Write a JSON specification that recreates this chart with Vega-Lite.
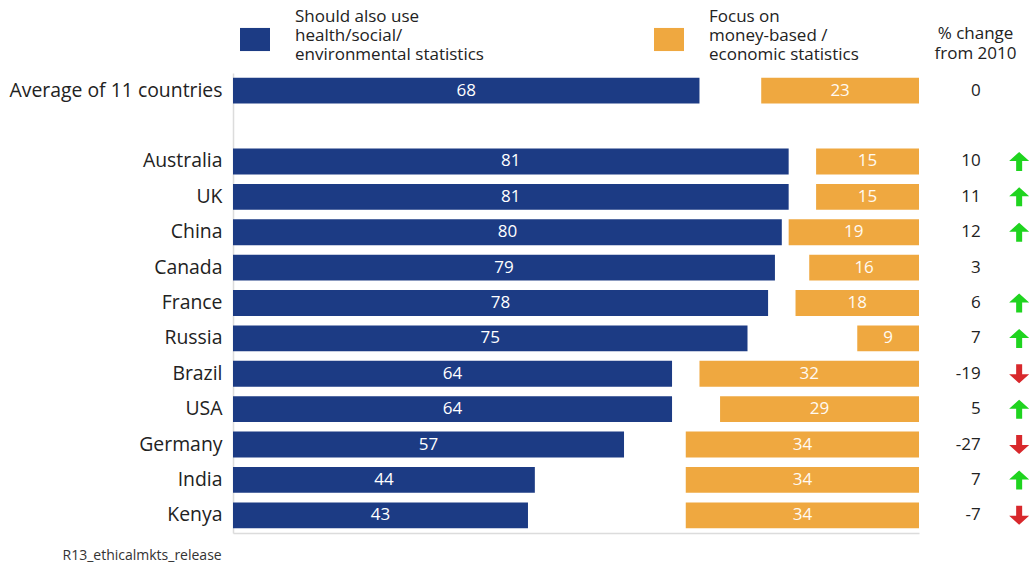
{
  "$schema": "https://vega.github.io/schema/vega-lite/v6.json",
  "autosize": {"type": "none"},
  "width": 686,
  "height": 460,
  "padding": {"left": 233, "top": 73, "right": 115, "bottom": 31},
  "background": "white",
  "config": {
    "font": "Open Sans",
    "view": {"stroke": null},
    "text": {"font": "Open Sans"}
  },
  "data": {
    "values": [
      {"country": "Average of 11 countries", "social": 68, "money": 23, "change": 0, "trend": null},
      {"country": "Australia", "social": 81, "money": 15, "change": 10, "trend": "up"},
      {"country": "UK", "social": 81, "money": 15, "change": 11, "trend": "up"},
      {"country": "China", "social": 80, "money": 19, "change": 12, "trend": "up"},
      {"country": "Canada", "social": 79, "money": 16, "change": 3, "trend": null},
      {"country": "France", "social": 78, "money": 18, "change": 6, "trend": "up"},
      {"country": "Russia", "social": 75, "money": 9, "change": 7, "trend": "up"},
      {"country": "Brazil", "social": 64, "money": 32, "change": -19, "trend": "down"},
      {"country": "USA", "social": 64, "money": 29, "change": 5, "trend": "up"},
      {"country": "Germany", "social": 57, "money": 34, "change": -27, "trend": "down"},
      {"country": "India", "social": 44, "money": 34, "change": 7, "trend": "up"},
      {"country": "Kenya", "social": 43, "money": 34, "change": -7, "trend": "down"}
    ]
  },
  "encoding": {
    "y": {
      "field": "country",
      "type": "nominal",
      "title": null,
      "scale": {
        "domain": ["Average of 11 countries", " ", "Australia", "UK", "China", "Canada", "France", "Russia", "Brazil", "USA", "Germany", "India", "Kenya"],
        "paddingInner": 0.27,
        "paddingOuter": 0.135
      },
      "axis": {
        "ticks": false,
        "labelPadding": 11,
        "labelFontSize": 19.4,
        "labelColor": "#222222",
        "labelLimit": 400,
        "domain": true,
        "domainColor": "#dcdcdc",
        "domainWidth": 1.5,
        "grid": false
      }
    }
  },
  "layer": [
    {
      "mark": {"type": "bar"},
      "encoding": {
        "x": {
          "field": "social",
          "type": "quantitative",
          "scale": {"domain": [0, 100]},
          "axis": {
            "domain": true,
            "domainColor": "#dcdcdc",
            "domainWidth": 1.5,
            "ticks": false,
            "labels": false,
            "grid": false,
            "title": "R13_ethicalmkts_release",
            "titleX": -171,
            "titleY": 22,
            "titleAlign": "left",
            "titleBaseline": "middle",
            "titleFontSize": 14,
            "titleFontWeight": "normal",
            "titleColor": "#333333"
          }
        },
        "color": {
          "datum": "social",
          "type": "nominal",
          "scale": {"domain": ["social", "money"], "range": ["#1c3b84", "#efa840"]},
          "legend": {
            "orient": "none",
            "legendX": 7,
            "legendY": -71,
            "direction": "horizontal",
            "columns": 2,
            "title": null,
            "symbolType": "M-1,0.73H1V2.27H-1Z",
            "symbolSize": 900,
            "symbolStrokeWidth": 0,
            "symbolOpacity": 1,
            "labelFontSize": 17,
            "labelLineHeight": 20,
            "labelOffset": 25,
            "labelLimit": 400,
            "labelColor": "#222222",
            "columnPadding": 170,
            "labelExpr": "datum.value == 'social' ? ['Should also use', 'health/social/', 'environmental statistics'] : ['Focus on', 'money-based /', 'economic statistics']"
          }
        }
      }
    },
    {
      "mark": {"type": "bar"},
      "encoding": {
        "x": {
          "field": "money",
          "type": "quantitative",
          "scale": {"domain": [0, 100], "reverse": true},
          "axis": null
        },
        "color": {"datum": "money", "type": "nominal"}
      }
    },
    {
      "mark": {"type": "text", "color": "white", "fontSize": 17, "baseline": "middle", "align": "center"},
      "encoding": {
        "x": {"field": "social", "type": "quantitative", "scale": {"domain": [0, 200]}, "axis": null},
        "text": {"field": "social", "type": "quantitative"}
      }
    },
    {
      "mark": {"type": "text", "color": "#fffaf2", "fontSize": 17, "baseline": "middle", "align": "center"},
      "encoding": {
        "x": {"field": "money", "type": "quantitative", "scale": {"domain": [0, 200], "reverse": true}, "axis": null},
        "text": {"field": "money", "type": "quantitative"}
      }
    },
    {
      "mark": {"type": "text", "color": "#222222", "fontSize": 17, "baseline": "middle", "align": "right"},
      "encoding": {
        "x": {
          "datum": 109,
          "type": "quantitative",
          "scale": {"domain": [0, 100]},
          "axis": {
            "orient": "top",
            "domain": false,
            "ticks": false,
            "labels": false,
            "grid": false,
            "title": ["% change", "from 2010"],
            "titleX": 742,
            "titleY": -35,
            "titleAlign": "center",
            "titleBaseline": "alphabetic",
            "titleFontSize": 17,
            "titleFontWeight": "normal",
            "titleColor": "#222222",
            "titleLineHeight": 20
          }
        },
        "text": {"field": "change", "type": "nominal"}
      }
    },
    {
      "transform": [{"filter": "datum.trend == 'up'"}],
      "mark": {
        "type": "point",
        "filled": true,
        "opacity": 1,
        "strokeWidth": 0,
        "size": 400,
        "color": "#1fd41f",
        "shape": "M0,-0.95L1,-0.05L0.3,-0.05L0.3,0.95L-0.3,0.95L-0.3,-0.05L-1,-0.05Z"
      },
      "encoding": {
        "x": {"datum": 114.6, "type": "quantitative", "scale": {"domain": [0, 100]}, "axis": null}
      }
    },
    {
      "transform": [{"filter": "datum.trend == 'down'"}],
      "mark": {
        "type": "point",
        "filled": true,
        "opacity": 1,
        "strokeWidth": 0,
        "size": 400,
        "color": "#d8282c",
        "shape": "M0,0.95L1,0.05L0.3,0.05L0.3,-0.95L-0.3,-0.95L-0.3,0.05L-1,0.05Z"
      },
      "encoding": {
        "x": {"datum": 114.6, "type": "quantitative", "scale": {"domain": [0, 100]}, "axis": null}
      }
    }
  ],
  "resolve": {"scale": {"x": "independent"}}
}
